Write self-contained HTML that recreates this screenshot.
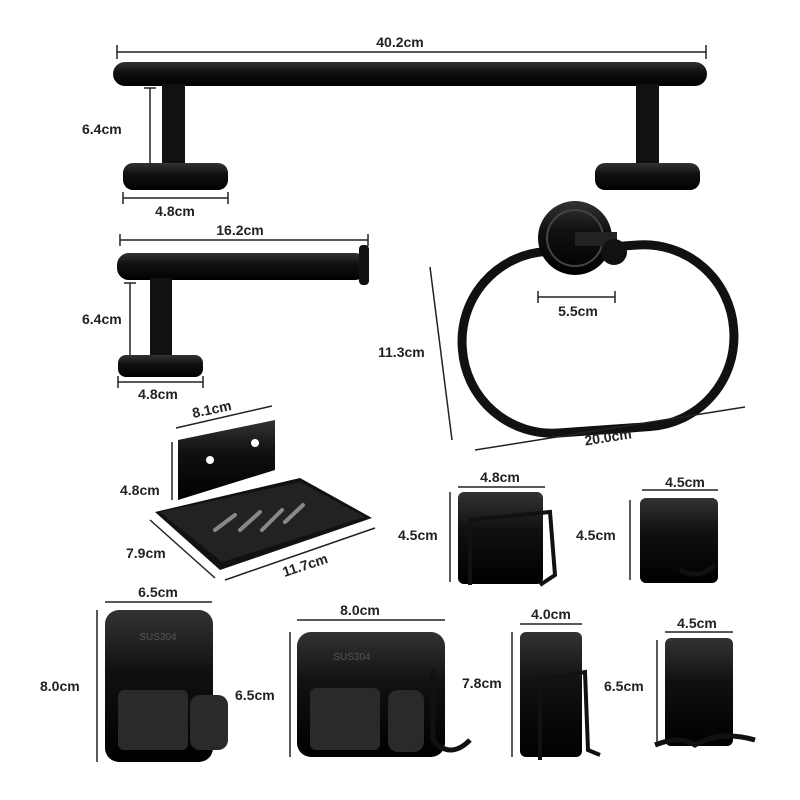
<!DOCTYPE html>
<html><head><meta charset="utf-8"><style>
html,body{margin:0;padding:0;background:#fff;}
svg{display:block}
text{font-family:"Liberation Sans",sans-serif;font-size:14px;font-weight:bold;fill:#222;}
.d{stroke:#222;stroke-width:1.5;fill:none}
</style></head><body>
<svg width="800" height="800" viewBox="0 0 800 800">
<defs>
<linearGradient id="g" x1="0" y1="0" x2="0" y2="1"><stop offset="0" stop-color="#333"/><stop offset="0.4" stop-color="#111"/><stop offset="1" stop-color="#000"/></linearGradient>
</defs>
<!-- towel bar -->
<line class="d" x1="117" y1="52" x2="706" y2="52"/><line class="d" x1="117" y1="45" x2="117" y2="59"/><line class="d" x1="706" y1="45" x2="706" y2="59"/>
<text x="400" y="47" text-anchor="middle">40.2cm</text>
<rect x="113" y="62" width="594" height="24" rx="12" fill="url(#g)"/>
<rect x="162" y="84" width="23" height="84" fill="#111"/>
<rect x="636" y="84" width="23" height="84" fill="#111"/>
<rect x="123" y="163" width="105" height="27" rx="10" fill="url(#g)"/>
<rect x="595" y="163" width="105" height="27" rx="10" fill="url(#g)"/>
<line class="d" x1="150" y1="88" x2="150" y2="168"/><line class="d" x1="144" y1="88" x2="156" y2="88"/><line class="d" x1="144" y1="168" x2="156" y2="168"/>
<text x="82" y="134">6.4cm</text>
<line class="d" x1="123" y1="198" x2="228" y2="198"/><line class="d" x1="123" y1="192" x2="123" y2="204"/><line class="d" x1="228" y1="192" x2="228" y2="204"/>
<text x="175" y="216" text-anchor="middle">4.8cm</text>
<!-- paper holder -->
<line class="d" x1="120" y1="240" x2="368" y2="240"/><line class="d" x1="120" y1="234" x2="120" y2="246"/><line class="d" x1="368" y1="234" x2="368" y2="246"/>
<text x="240" y="235" text-anchor="middle">16.2cm</text>
<rect x="117" y="253" width="250" height="27" rx="12" fill="url(#g)"/>
<rect x="359" y="245" width="10" height="40" rx="4" fill="#111"/>
<rect x="150" y="278" width="22" height="80" fill="#111"/>
<rect x="118" y="355" width="85" height="22" rx="8" fill="url(#g)"/>
<line class="d" x1="130" y1="283" x2="130" y2="355"/><line class="d" x1="124" y1="283" x2="136" y2="283"/>
<text x="82" y="324">6.4cm</text>
<line class="d" x1="118" y1="382" x2="203" y2="382"/><line class="d" x1="118" y1="376" x2="118" y2="388"/><line class="d" x1="203" y1="376" x2="203" y2="388"/>
<text x="158" y="399" text-anchor="middle">4.8cm</text>
<!-- towel ring -->
<rect x="462" y="248" width="272" height="182" rx="90" fill="none" stroke="#111" stroke-width="9" transform="rotate(-4 598 339)"/>
<circle cx="575" cy="238" r="37" fill="url(#g)"/>
<circle cx="575" cy="238" r="28" fill="none" stroke="#444" stroke-width="2"/>
<rect x="575" y="232" width="42" height="14" fill="#222"/>
<circle cx="614" cy="252" r="13" fill="#111"/>
<line class="d" x1="538" y1="297" x2="615" y2="297"/><line class="d" x1="538" y1="291" x2="538" y2="303"/><line class="d" x1="615" y1="291" x2="615" y2="303"/>
<text x="578" y="316" text-anchor="middle">5.5cm</text>
<line class="d" x1="430" y1="267" x2="452" y2="440"/>
<text x="378" y="357">11.3cm</text>
<line class="d" x1="475" y1="450" x2="745" y2="407"/>
<text x="608" y="442" text-anchor="middle" transform="rotate(-9 608 437)">20.0cm</text>
<!-- soap dish -->
<polygon points="178,440 275,420 275,470 178,500" fill="url(#g)"/>
<circle cx="210" cy="460" r="4" fill="#fff"/><circle cx="255" cy="443" r="4" fill="#fff"/>
<polygon points="155,512 300,478 372,518 220,570" fill="#111"/>
<polygon points="160,512 300,482 365,517 222,562" fill="#222"/>
<g stroke="#888" stroke-width="4" stroke-linecap="round">
<line x1="215" y1="530" x2="235" y2="515"/><line x1="240" y1="530" x2="260" y2="512"/><line x1="262" y1="530" x2="282" y2="510"/><line x1="285" y1="522" x2="303" y2="505"/>
</g>
<line class="d" x1="176" y1="428" x2="272" y2="406"/>
<text x="212" y="414" text-anchor="middle" transform="rotate(-12 212 410)">8.1cm</text>
<line class="d" x1="172" y1="442" x2="172" y2="500"/>
<text x="120" y="495">4.8cm</text>
<line class="d" x1="150" y1="520" x2="215" y2="578"/>
<text x="126" y="558">7.9cm</text>
<line class="d" x1="225" y1="580" x2="375" y2="528"/>
<text x="305" y="570" text-anchor="middle" transform="rotate(-18 305 565)">11.7cm</text>
<!-- sponge holder -->
<line class="d" x1="458" y1="487" x2="545" y2="487"/>
<text x="500" y="482" text-anchor="middle">4.8cm</text>
<rect x="458" y="492" width="85" height="92" rx="6" fill="url(#g)"/>
<path d="M470 585 L470 520 L550 512 L555 575 L540 585" fill="none" stroke="#111" stroke-width="4"/>
<line class="d" x1="450" y1="492" x2="450" y2="582"/>
<text x="398" y="540">4.5cm</text>
<!-- hook1 -->
<line class="d" x1="642" y1="490" x2="718" y2="490"/>
<text x="685" y="487" text-anchor="middle">4.5cm</text>
<rect x="640" y="498" width="78" height="85" rx="6" fill="url(#g)"/>
<path d="M680 570 Q700 580 715 565" stroke="#111" stroke-width="5" fill="none"/>
<line class="d" x1="630" y1="500" x2="630" y2="580"/>
<text x="576" y="540">4.5cm</text>
<!-- mop holder -->
<line class="d" x1="105" y1="602" x2="212" y2="602"/>
<text x="158" y="597" text-anchor="middle">6.5cm</text>
<rect x="105" y="610" width="108" height="152" rx="14" fill="url(#g)"/>
<text x="158" y="640" text-anchor="middle" style="fill:#555;font-size:10px;font-weight:normal">SUS304</text>
<rect x="118" y="690" width="70" height="60" rx="6" fill="#2a2a2a"/>
<rect x="190" y="695" width="38" height="55" rx="10" fill="#2a2a2a"/>
<line class="d" x1="97" y1="610" x2="97" y2="762"/>
<text x="40" y="691">8.0cm</text>
<!-- big plate -->
<line class="d" x1="297" y1="620" x2="445" y2="620"/>
<text x="360" y="615" text-anchor="middle">8.0cm</text>
<rect x="297" y="632" width="148" height="125" rx="14" fill="url(#g)"/>
<text x="352" y="660" text-anchor="middle" style="fill:#555;font-size:10px;font-weight:normal">SUS304</text>
<rect x="310" y="688" width="70" height="62" rx="6" fill="#2a2a2a"/>
<rect x="388" y="690" width="36" height="62" rx="10" fill="#2a2a2a"/>
<path d="M433 670 L433 740 Q450 760 470 740" stroke="#111" stroke-width="5" fill="none"/>
<line class="d" x1="290" y1="632" x2="290" y2="757"/>
<text x="235" y="700">6.5cm</text>
<!-- razor holder -->
<line class="d" x1="520" y1="624" x2="582" y2="624"/>
<text x="551" y="619" text-anchor="middle">4.0cm</text>
<rect x="520" y="632" width="62" height="125" rx="6" fill="url(#g)"/>
<path d="M540 760 L540 680 L585 672 L588 750 L600 755" stroke="#111" stroke-width="4" fill="none"/>
<line class="d" x1="512" y1="632" x2="512" y2="757"/>
<text x="462" y="688">7.8cm</text>
<!-- hook2 -->
<line class="d" x1="665" y1="632" x2="733" y2="632"/>
<text x="697" y="628" text-anchor="middle">4.5cm</text>
<rect x="665" y="638" width="68" height="108" rx="6" fill="url(#g)"/>
<path d="M655 745 Q680 735 695 745 Q720 730 755 740" stroke="#111" stroke-width="5" fill="none"/>
<line class="d" x1="657" y1="640" x2="657" y2="742"/>
<text x="604" y="691">6.5cm</text>
</svg>
</body></html>
